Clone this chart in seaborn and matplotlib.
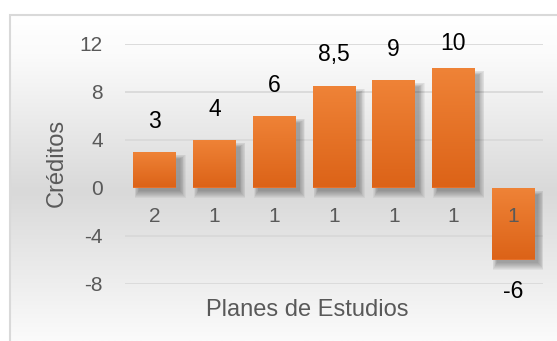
import numpy as np
import pandas as pd
import matplotlib
matplotlib.use("Agg")
import matplotlib.pyplot as plt
import seaborn as sns
from matplotlib.colors import LinearSegmentedColormap
from matplotlib.patches import Rectangle

# --Daten--
categorias = ["2", "1", "1", "1", "1", "1", "1"]
creditos = [3, 4, 6, 8.5, 9, 10, -6]
y_ticks = [-8, -4, 0, 4, 8, 12]

df = pd.DataFrame({"pos": range(len(creditos)), "creditos": creditos})

sns.set_style("white")
plt.rcParams["font.family"] = ["Liberation Sans", "DejaVu Sans"]

W, H, DPI = 557, 341, 100
fig = plt.figure(figsize=(W / DPI, H / DPI), dpi=DPI)
fig.patch.set_facecolor("white")

# --Hintergrund mit Verlauf (Excel-Stil)--
bg = fig.add_axes([10 / W, 0, 1 - 10 / W, (H - 15) / H], zorder=0)
bg_cmap = LinearSegmentedColormap.from_list(
    "bg", [(0, "#ffffff"), (0.12, "#fbfbfb"), (0.54, "#d9d9d9"), (1.0, "#fbfbfb")])
bg.imshow(np.linspace(0, 1, 256).reshape(-1, 1), aspect="auto", cmap=bg_cmap,
          extent=[0, 1, 0, 1], origin="upper")
bg.set_xlim(0, 1)
bg.set_ylim(0, 1)
bg.axis("off")
fig.add_artist(Rectangle((9.5 / W, -0.01), 1, (H - 14.5) / H + 0.01,
                         transform=fig.transFigure, fill=False,
                         edgecolor="#d9d9d9", linewidth=1.5, zorder=1))

# --Diagramm--
ax = fig.add_axes([125 / W, 1 - 283.5 / H, 418 / W, 240 / H], zorder=2)
ax.patch.set_alpha(0)
sns.barplot(data=df, x="pos", y="creditos", width=0.72, color="#e87028",
            saturation=1, ax=ax, zorder=3)
ax.set_xlim(-0.5, len(creditos) - 0.5)
ax.set_ylim(y_ticks[0], y_ticks[-1])

for t in y_ticks:
    ax.axhline(t, color="#d9d9d9", linewidth=1.3, zorder=0.5)

# Pixel -> Dateneinheiten
px_x = (len(creditos)) / 418
px_y = (y_ticks[-1] - y_ticks[0]) / 240

bar_cmap = LinearSegmentedColormap.from_list("bar", ["#ef8337", "#dc6318"])
for p in list(ax.patches):
    x0, w = p.get_x(), p.get_width()
    y0, h = p.get_y(), p.get_height()
    ylo, yhi = min(y0, y0 + h), max(y0, y0 + h)
    # weicher Schatten nach rechts unten
    for k in range(1, 9):
        left = x0 + (6 - 0.6 * k) * px_x
        right = x0 + w + (3 + 0.8 * k) * px_x
        bottom = ylo - (3 + 0.9 * k) * px_y
        top = yhi - (8 - 0.6 * k) * px_y
        ax.add_patch(Rectangle((left, bottom), right - left, top - bottom,
                               facecolor="black", edgecolor="none",
                               alpha=0.045, zorder=2))
    # Verlauf im Balken
    im = ax.imshow(np.linspace(0, 1, 64).reshape(-1, 1), cmap=bar_cmap,
                   aspect="auto", extent=[x0, x0 + w, ylo, yhi],
                   origin="upper", zorder=3.5)
    im.set_clip_path(p)
    p.set_edgecolor("none")

ax.set_xlim(-0.5, len(creditos) - 0.5)
ax.set_ylim(y_ticks[0], y_ticks[-1])

# Datenbeschriftungen
for i, v in enumerate(creditos):
    txt = f"{v:g}".replace(".", ",")
    y = min(v + 2.0, 11.45) if v > 0 else v - 3.2
    ax.text(i, y, txt, ha="center", va="baseline", fontsize=16.5,
            color="black", zorder=5, clip_on=False)

ax.set_yticks(y_ticks)
ax.set_yticklabels([str(t) for t in y_ticks])
ax.set_xticks(range(len(categorias)))
ax.set_xticklabels(categorias)
ax.spines["bottom"].set_position(("data", 0))
for s in ax.spines.values():
    s.set_visible(False)
ax.tick_params(axis="y", length=0, pad=16, labelsize=15, labelcolor="#595959")
ax.tick_params(axis="x", length=0, pad=14, labelsize=15, labelcolor="#595959")
ax.xaxis.set_zorder(6)
ax.set_xlabel("")
ax.set_ylabel("")

fig.text(307 / W, 1 - 309.5 / H, "Planes de Estudios", ha="center", va="center",
         fontsize=17, color="#595959")
fig.text(57 / W, 1 - 163 / H, "Créditos", ha="center", va="center",
         rotation=90, fontsize=17, color="#595959")

fig.savefig("out.png", dpi=DPI)
